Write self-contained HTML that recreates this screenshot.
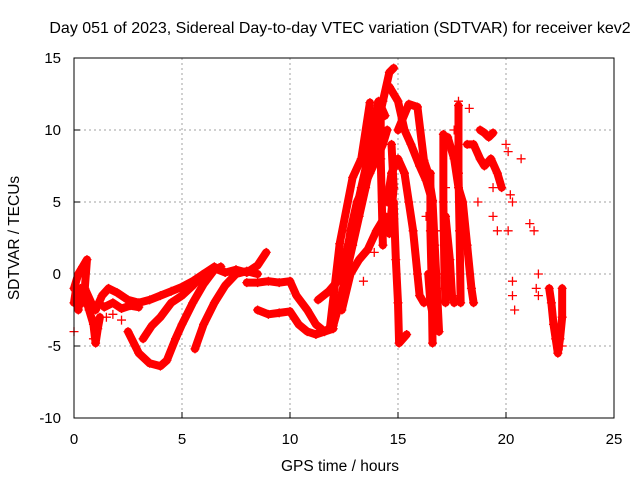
<!DOCTYPE html>
<html><head><meta charset="utf-8"><style>
body{margin:0;background:#fff}
svg{display:block;font-family:"Liberation Sans",sans-serif}
</style></head><body>
<svg id="chart" width="640" height="480" viewBox="0 0 640 480">
<rect width="640" height="480" fill="#fff"/>
<text x="340" y="33" font-size="16" text-anchor="middle">Day 051 of 2023, Sidereal Day-to-day VTEC variation (SDTVAR) for receiver kev2</text>
<text x="340" y="471" font-size="15.5" text-anchor="middle">GPS time / hours</text>
<text transform="translate(19,238) rotate(-90)" font-size="15.5" text-anchor="middle">SDTVAR / TECUs</text>
<g id="grid"></g>
<g id="ticks"></g>
<g id="series"></g>
<rect x="74" y="58" width="540" height="360" fill="none" stroke="#000" stroke-width="1"/>
</svg>
<script>
const xTicks=[0,5,10,15,20,25];
const yTicks=[-10,-5,0,5,10,15];
const trackEarly=[[0,-2],[0.1,-1],[0.2,-2.5],[0.3,-1],[0.4,-2],[0.5,-1.5],[0.7,-2.5],[0.9,-3.5],[1,-4.8],[1.1,-3.8],[1.2,-3]];
const trackUpper=[[0,-1],[0.2,0],[0.4,0.5],[0.6,1],[0.5,-1],[0.8,-2],[1,-2.5],[1.3,-1.5],[1.6,-1],[2,-1.3],[2.5,-1.8],[3,-2],[3.5,-1.8],[4,-1.5],[4.5,-1.2],[5,-0.9],[5.5,-0.5],[6,0],[6.5,0.4],[7,0.1],[7.5,0.3],[8,0.1],[8.5,0.6],[8.9,1.5]];
const trackUpper2=[[1.4,-2.3],[1.8,-2],[2.2,-2.4],[2.6,-2.2],[3,-2.3]];
const trackDeep=[[2.5,-4],[3,-5.5],[3.5,-6.2],[4,-6.4],[4.3,-6],[4.7,-4.5],[5,-3.5],[5.5,-2],[6,-0.7],[6.5,0.3],[6.8,0.5]];
const trackMid=[[3.2,-4.5],[3.6,-3.6],[4,-3],[4.5,-2],[5,-1.5],[5.5,-0.8],[6,0],[6.5,0.5]];
const trackLate=[[5.6,-5.2],[6,-3.5],[6.5,-2],[7,-0.8],[7.5,0],[8,0.2],[8.5,0]];
const trackFlat=[[8,-0.6],[8.5,-0.6],[9,-0.5],[9.5,-0.6],[10,-0.5],[10.3,-1.5],[10.8,-2.5],[11.2,-3.5],[11.6,-4],[12,-3.8]];
const trackRise=[[8.5,-2.5],[9,-2.8],[9.5,-2.7],[10,-2.6],[10.4,-3.5],[10.8,-4],[11.2,-4.2],[11.6,-4],[12,-3.6],[12.3,-2],[12.6,0],[12.9,2],[13.2,4],[13.5,6],[13.8,8],[14,10],[14.3,12],[14.6,14],[14.8,14.3]];
const trackRise2=[[11.3,-1.8],[11.8,-1.2],[12.2,-0.5],[12.6,1.5],[13,4],[13.3,6],[13.6,8],[13.8,10],[14.1,12],[14.4,11]];
const riseLeft=[[11.85,-3.7],[12.3,2.1],[12.9,6.7],[13.3,8],[13.7,11.9]];
const riseRight=[[12.4,-2.5],[12.8,0],[13.2,1],[13.6,1.7],[14,3],[14.4,4],[14.6,2.8],[14.8,6],[14.7,9]];
const riseMid=[[12.5,0],[12.8,3],[13.1,5],[13.4,6],[13.7,7],[14,8],[14.3,9],[14.5,10]];
const trackFall=[[14.6,13],[15,12],[15.3,10],[15.6,9],[16,7.5],[16.3,6.5],[16.6,5],[16.7,2],[16.8,-1],[16.9,-4]];
const trackFall2=[[15,10],[15.5,11.8],[15.9,11.6],[16.2,7.9],[16.4,7],[16.6,5.1]];
const trackFall3=[[14.5,5],[14.7,7],[15,8],[15.3,7],[15.5,5],[15.7,3],[15.9,0],[16,-1.5],[16.2,-2]];
const streak14=[[14.2,11],[14.2,8],[14.25,5],[14.3,2]];
const streakA=[[14.8,5],[14.9,1],[15,-2],[15.05,-4.8],[15.4,-4.2]];
const streakB=[[16.4,0],[16.5,-2],[16.7,-3.5]];
const streakC=[[16.5,7],[16.5,3],[16.55,0],[16.6,-4.8]];
const trackEve1=[[17.3,9.5],[17.6,8],[17.8,6],[18,5],[18.2,2],[18.4,-1],[18.5,-2]];
const trackEve2=[[17.2,4],[17.4,1],[17.5,-1.5],[17.6,-2]];
const eveStreak1=[[17.1,9.7],[17.1,5],[17.15,0],[17.2,-2]];
const eveStreak2=[[17.8,11.7],[17.8,7],[17.85,3],[17.9,-2]];
const trackEve3=[[18.2,9],[18.5,9],[18.8,8],[19,7.5],[19.3,8],[19.6,7],[19.8,6]];
const trackEve4=[[18.8,10],[19,9.8],[19.2,9.5],[19.4,9.8]];
const trackNight=[[22.0,-1],[22.1,-2],[22.2,-3.5],[22.3,-4.5],[22.4,-5.5],[22.5,-4.5],[22.6,-3],[22.6,-1]];
const scatterPts=[[20.2,5.5],[20.3,5],[20.1,3],[20.3,-0.5],[20.3,-1.5],[20.4,-2.5],[20.7,8],[21.1,3.5],[21.3,3],[21.5,0],[21.5,-1.5],[21.4,-1],[22.6,-5],[20.0,9],[20.1,8.5],[18.3,11.5],[17.8,12],[17.6,10],[19.4,4],[18.1,3],[17.2,6],[19.6,3],[19.4,6],[17.0,3],[17.0,0],[16.3,4],[18.7,5],[0,-4],[0.9,-4.5],[1.2,-2],[1.5,-3],[1.8,-2.8],[2.2,-3.2],[13.4,-0.5],[13.9,1.5]];
const tracks=[trackEarly,trackUpper,trackUpper2,trackDeep,trackMid,trackLate,trackFlat,trackRise,trackRise2,riseLeft,riseRight,riseMid,trackFall,trackFall2,trackFall3,streak14,streakA,streakB,streakC,trackEve1,trackEve2,eveStreak1,eveStreak2,trackEve3,trackEve4,trackNight];

const NS='http://www.w3.org/2000/svg';
const X=t=>74+t*21.6;
const Y=v=>274-v*14.4;
const grid=document.getElementById('grid'),ticks=document.getElementById('ticks'),series=document.getElementById('series');
function mk(tag,attrs,parent){const e=document.createElementNS(NS,tag);for(const k in attrs)e.setAttribute(k,attrs[k]);parent.appendChild(e);return e;}
xTicks.forEach(t=>{
 if(t>0&&t<25){const g=mk('line',{x1:X(t),x2:X(t),y1:58,y2:418,stroke:'#a0a0a0','stroke-dasharray':'2,3'},grid);
 
 }
 const tk=mk('line',{x1:X(t),x2:X(t),y1:418,y2:412,stroke:'#000'},ticks);
 
 
 const tx=mk('text',{x:X(t),y:444,'font-size':15,'text-anchor':'middle'},ticks);tx.textContent=t;
 
 
});
yTicks.forEach(v=>{
 if(v>-10&&v<15){const g=mk('line',{x1:74,x2:614,y1:Y(v),y2:Y(v),stroke:'#a0a0a0','stroke-dasharray':'2,3'},grid);
 
 }
 const tk=mk('line',{x1:74,x2:80,y1:Y(v),y2:Y(v),stroke:'#000'},ticks);
 
 
 const tx=mk('text',{x:61,y:Y(v)+5,'font-size':15,'text-anchor':'end'},ticks);tx.textContent=v;
 
 
});
function plus(t,v){
 const p=mk('path',{d:`M${X(t)-4.5},${Y(v)}h9M${X(t)},${Y(v)-4.5}v9`,stroke:'#f00','stroke-width':1.3},series);
 
 
}
tracks.forEach(tr=>{
 const pl=mk('polyline',{points:tr.map(p=>X(p[0])+','+Y(p[1])).join(' '),fill:'none',stroke:'#f00','stroke-width':8,'stroke-linejoin':'round','stroke-linecap':'round'},series);
 
 
 tr.forEach(p=>plus(p[0],p[1]));
});
scatterPts.forEach(p=>plus(p[0],p[1]));
</script>
</body></html>
